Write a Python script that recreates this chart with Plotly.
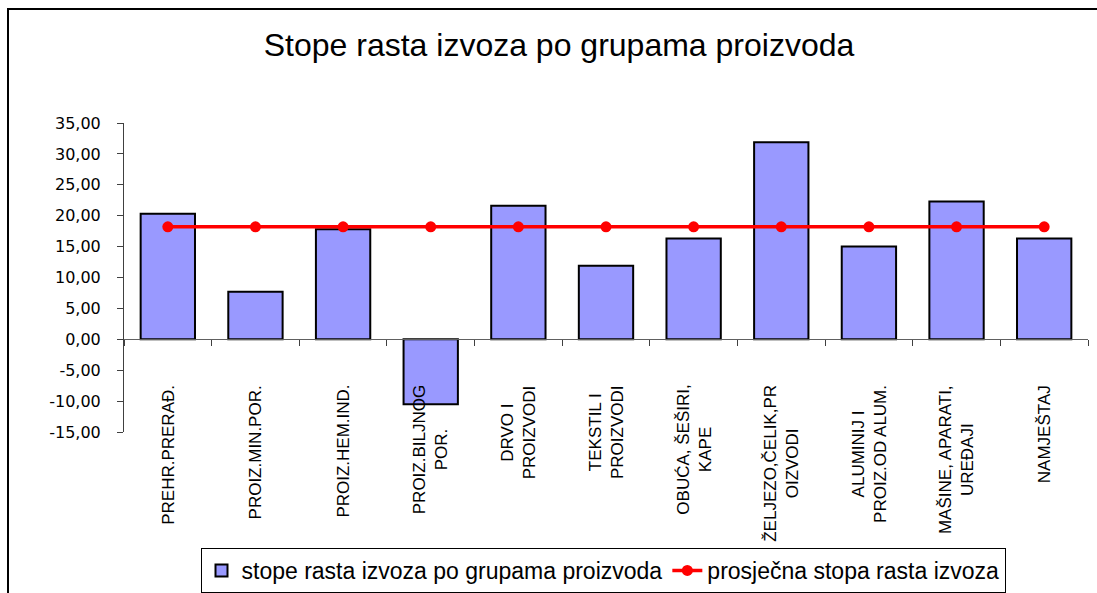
import plotly.graph_objects as go

categories = [
    "PREHR.PRERAĐ.",
    "PROIZ.MIN.POR.",
    "PROIZ.HEM.IND.",
    "PROIZ.BILJNOG<br>POR.",
    "DRVO I<br>PROIZVODI",
    "TEKSTIL I<br>PROIZVODI",
    "OBUĆA, ŠEŠIRI,<br>KAPE",
    "ŽELJEZO,ČELIK,PR<br>OIZVODI",
    "ALUMINIJ I<br>PROIZ.OD ALUM.",
    "MAŠINE, APARATI,<br>UREĐAJI",
    "NAMJEŠTAJ",
]
growth_rates = [20.3, 7.7, 17.8, -10.5, 21.6, 11.9, 16.3, 31.9, 15.0, 22.3, 16.3]
average_rate = [18.2] * len(categories)
y_tickvals = [-15, -10, -5, 0, 5, 10, 15, 20, 25, 30, 35]
y_ticktext = ["-15,00", "-10,00", "-5,00", "0,00", "5,00", "10,00", "15,00",
              "20,00", "25,00", "30,00", "35,00"]

title_text = "Stope rasta izvoza po grupama proizvoda"
bar_name = "stope rasta izvoza po grupama proizvoda"
line_name = "prosječna stopa rasta izvoza"

W, H = 1097, 593
L, R, T, B = 124, 9, 123, 161
pw, ph = W - L - R, H - T - B

fig = go.Figure()
fig.add_trace(go.Bar(
    x=list(range(len(categories))), y=growth_rates, name=bar_name,
    marker=dict(color="#9999FF", line=dict(color="black", width=2)),
))
fig.add_trace(go.Scatter(
    x=list(range(len(categories))), y=average_rate, name=line_name, mode="lines+markers",
    line=dict(color="#FF0000", width=3.5),
    marker=dict(color="#FF0000", size=11),
))

annotations = []
for i, c in enumerate(categories):
    annotations.append(dict(
        x=i, xref="x", y=(432 - 383) / ph, yref="paper",
        text=c, textangle=-90, showarrow=False, align="center",
        xanchor="center", yanchor="top",
        font=dict(family="Liberation Sans, Arial", size=17, color="black"),
    ))

fig.update_layout(
    width=W, height=H,
    margin=dict(l=L, r=R, t=T, b=B, autoexpand=False),
    paper_bgcolor="white", plot_bgcolor="white",
    bargap=0.38,
    title=dict(text=title_text, x=559 / W, xanchor="center", xref="container",
               y=1 - 45 / H, yanchor="middle", yref="container",
               font=dict(family="Liberation Sans, Arial", size=32, color="black")),
    xaxis=dict(
        type="linear", range=[-0.5, len(categories) - 0.5],
        tickvals=[i - 0.5 for i in range(len(categories) + 1)],
        showticklabels=False,
        anchor="free", position=0.3,
        showline=True, linecolor="#606060", linewidth=1,
        ticks="outside", ticklen=6, tickcolor="#404040",
        showgrid=False, zeroline=False,
    ),
    yaxis=dict(
        range=[-15, 35], tickvals=y_tickvals, ticktext=y_ticktext,
        showline=True, linecolor="#404040", linewidth=1,
        ticks="outside", ticklen=6, tickcolor="#404040",
        showgrid=False, zeroline=False,
        ticklabelstandoff=13,
        tickfont=dict(family="DejaVu Sans, Verdana", size=16, color="black"),
    ),
    legend=dict(
        orientation="h", xref="container", yref="container",
        x=603 / W, xanchor="center", y=1 - 548 / H, yanchor="top",
        bordercolor="black", borderwidth=1, bgcolor="white",
        font=dict(family="Liberation Sans, Arial", size=23, color="black"),
        tracegroupgap=0,
    ),
    annotations=annotations,
    shapes=[dict(
        type="rect", xref="paper", yref="paper", layer="below",
        x0=(8 - L) / pw, x1=(W + 20 - L) / pw,
        y0=(432 - (H + 20)) / ph, y1=(432 - 9) / ph,
        line=dict(color="black", width=2), fillcolor="rgba(0,0,0,0)",
    )],
)

fig.write_html(
    "out.html",
    config={"displayModeBar": False},
    post_script="document.body.style.margin='0';document.body.style.overflow='hidden';",
)
